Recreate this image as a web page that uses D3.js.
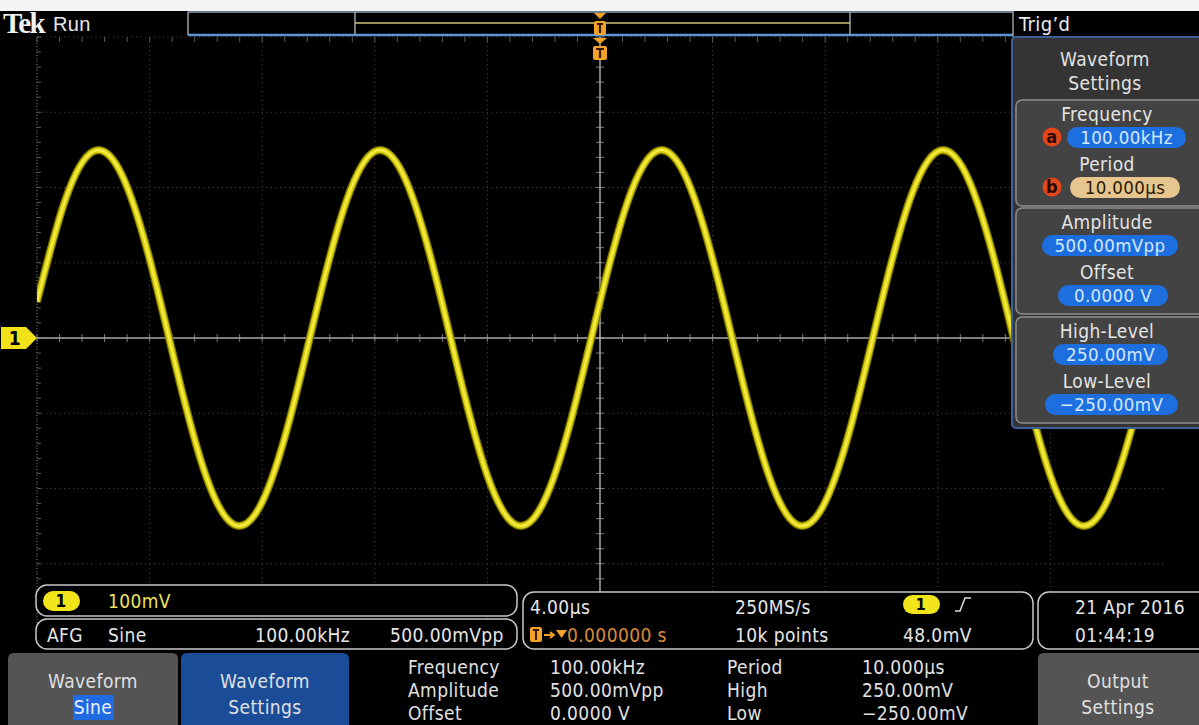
<!DOCTYPE html>
<html>
<head>
<meta charset="utf-8">
<script src="https://cdn.jsdelivr.net/npm/d3@7"></script>
<style>
  html, body { margin: 0; padding: 0; background: #000; }
  svg { display: block; }
  text { font-family: "DejaVu Sans Condensed", "Liberation Sans Narrow", "DejaVu Sans", sans-serif; letter-spacing: 0.4px; }
</style>
</head>
<body>
<div id="viz"></div>
<script>
var w = 1199;
var h = 725;

var timeUs = [-20, -19, -18, -17, -16, -15, -14, -13, -12, -11,
              -10, -9, -8, -7, -6, -5, -4, -3, -2, -1,
              0, 1, 2, 3, 4, 5, 6, 7, 8, 9,
              10, 11, 12, 13, 14, 15, 16, 17, 18, 19, 20];
var traceMv = [48, 183, 248, 218, 105, -48, -183, -248, -218, -105,
               48, 183, 248, 218, 105, -48, -183, -248, -218, -105,
               48, 183, 248, 218, 105, -48, -183, -248, -218, -105,
               48, 183, 248, 218, 105, -48, -183, -248, -218, -105,
               48];

// graticule: 10 x 4us, 8 x 100mV
var timeTicks = [-20, -16, -12, -8, -4, 0, 4, 8, 12, 16, 20];
var voltTicks = [-400, -300, -200, -100, 0, 100, 200, 300, 400];

// right side menu
var panelTitle = ["Waveform", "Settings"];
var panelGroups = [
  {labels: ["Frequency", "Period"], values: ["100.00kHz", "10.000\u00b5s"], keys: ["a", "b"]},
  {labels: ["Amplitude", "Offset"], values: ["500.00mVpp", "0.0000 V"], keys: [null, null]},
  {labels: ["High-Level", "Low-Level"], values: ["250.00mV", "\u2212250.00mV"], keys: [null, null]}
];

// readouts
var chanScale = "100mV";
var afgRow = ["AFG", "Sine", "100.00kHz", "500.00mVpp"];
var horizRow1 = ["4.00\u00b5s", "250MS/s"];
var horizRow2 = ["0.000000 s", "10k points", "48.0mV"];
var dateRow = ["21 Apr  2016", "01:44:19"];
var paramNames = ["Frequency", "Amplitude", "Offset"];
var paramVals = ["100.00kHz", "500.00mVpp", "0.0000 V"];
var paramNames2 = ["Period", "High", "Low"];
var paramVals2 = ["10.000\u00b5s", "250.00mV", "\u2212250.00mV"];

var gx0 = 37, gx1 = 1163, gy0 = 37, gy1 = 639;
var fs = 19;

var svg = d3.select("#viz")
    .append("svg")
    .attr("width", w)
    .attr("height", h);

svg.append("rect").attr("width", w).attr("height", h).attr("fill", "#000");

var x = d3.scaleLinear().domain([-20, 20]).range([gx0, gx1]);
var y = d3.scaleLinear().domain([-400, 400]).range([gy1, gy0]);

//graticule
var grid = svg.append("g").attr("class", "grid");

grid.selectAll("line.vg")
    .data(timeTicks.filter(function (t) { return t != 0 && t != 20; }))
    .enter().append("line")
    .attr("x1", function (d) { return x(d); })
    .attr("x2", function (d) { return x(d); })
    .attr("y1", gy0).attr("y2", gy1)
    .attr("stroke", "#4a4a4a")
    .attr("stroke-dasharray", "1,3.5");

grid.selectAll("line.hg")
    .data(voltTicks.filter(function (v) { return v != 0 && v != -400; }))
    .enter().append("line")
    .attr("y1", function (d) { return y(d); })
    .attr("y2", function (d) { return y(d); })
    .attr("x1", gx0).attr("x2", gx1)
    .attr("stroke", "#4a4a4a")
    .attr("stroke-dasharray", "1,3.5");

// minor tick marks on the center lines and frame
var minorT = d3.range(-20, 20.01, 0.8);
var minorV = d3.range(-400, 400.01, 20);

grid.selectAll("line.mt")
    .data(minorT)
    .enter().append("line")
    .attr("x1", function (d) { return x(d); })
    .attr("x2", function (d) { return x(d); })
    .attr("y1", y(0) - 4).attr("y2", y(0) + 4)
    .attr("stroke", "#7a7a7a");

grid.selectAll("line.mtt")
    .data(minorT)
    .enter().append("line")
    .attr("x1", function (d) { return x(d); })
    .attr("x2", function (d) { return x(d); })
    .attr("y1", gy0).attr("y2", gy0 + 5)
    .attr("stroke", "#5a5a5a");

grid.selectAll("line.mv")
    .data(minorV)
    .enter().append("line")
    .attr("y1", function (d) { return y(d); })
    .attr("y2", function (d) { return y(d); })
    .attr("x1", x(0) - 4).attr("x2", x(0) + 4)
    .attr("stroke", "#7a7a7a");

grid.selectAll("line.mvl")
    .data(minorV)
    .enter().append("line")
    .attr("y1", function (d) { return y(d); })
    .attr("y2", function (d) { return y(d); })
    .attr("x1", gx0).attr("x2", gx0 + 4)
    .attr("stroke", "#5a5a5a");

grid.append("line")
    .attr("x1", gx0).attr("x2", gx0).attr("y1", gy0).attr("y2", gy1)
    .attr("stroke", "#6a6a6a").attr("stroke-dasharray", "1,2");

grid.append("line")
    .attr("x1", gx0).attr("x2", gx1).attr("y1", y(0)).attr("y2", y(0))
    .attr("stroke", "#a8a8a8").attr("stroke-width", 1.5);
grid.append("line")
    .attr("x1", x(0)).attr("x2", x(0)).attr("y1", gy0).attr("y2", gy1)
    .attr("stroke", "#a8a8a8").attr("stroke-width", 1.5);

//trace
svg.append("clipPath").attr("id", "gclip")
    .append("rect").attr("x", gx0).attr("y", gy0)
    .attr("width", gx1 - gx0).attr("height", gy1 - gy0);

var line = d3.line()
    .x(function (d, i) { return x(timeUs[i]); })
    .y(function (d) { return y(d); })
    .curve(d3.curveNatural);

var traceG = svg.append("g").attr("clip-path", "url(#gclip)");
traceG.append("path").attr("d", line(traceMv))
    .attr("fill", "none").attr("stroke", "#7c7600").attr("stroke-width", 8);
traceG.append("path").attr("d", line(traceMv))
    .attr("fill", "none").attr("stroke", "#dcd20e").attr("stroke-width", 5.5);
traceG.append("path").attr("d", line(traceMv))
    .attr("fill", "none").attr("stroke", "#f6ec4a").attr("stroke-width", 2);

//channel 1 marker
var cy0 = y(0);
svg.append("path")
    .attr("d", "M1," + (cy0 - 11) + "L26," + (cy0 - 11) + "L37," + cy0 + "L26," + (cy0 + 11) + "L1," + (cy0 + 11) + "Z")
    .attr("fill", "#f2e21a");
svg.append("text").attr("x", 15).attr("y", cy0 + 7)
    .attr("text-anchor", "middle").attr("font-size", 19).attr("font-weight", "bold")
    .attr("fill", "#000").text("1");

//top bar
var topBar = svg.append("g");
topBar.append("rect").attr("x", 0).attr("y", 0).attr("width", w).attr("height", 11).attr("fill", "#f4f4f4");
topBar.append("rect").attr("x", 0).attr("y", 11).attr("width", w).attr("height", 25).attr("fill", "#000");
topBar.append("text").attr("x", 3).attr("y", 33)
    .attr("font-weight", "bold").attr("font-size", 29).attr("fill", "#f0f0f0")
    .style("font-family", "'Liberation Serif', 'DejaVu Serif', serif")
    .style("letter-spacing", "-1.5px").text("Tek");
topBar.append("text").attr("x", 53).attr("y", 31)
    .attr("font-size", 20).attr("fill", "#e8e8e8")
    .style("font-family", "'Liberation Sans', Arial, sans-serif").text("Run");

topBar.append("line").attr("x1", 188).attr("x2", 1013).attr("y1", 12).attr("y2", 12)
    .attr("stroke", "#8aa4ba").attr("stroke-width", 1.5);
topBar.append("line").attr("x1", 188).attr("x2", 1013).attr("y1", 35).attr("y2", 35)
    .attr("stroke", "#5b95d6").attr("stroke-width", 2.5);
topBar.append("line").attr("x1", 188).attr("x2", 188).attr("y1", 12).attr("y2", 35)
    .attr("stroke", "#a0a0a0").attr("stroke-width", 1.5);
topBar.append("line").attr("x1", 355).attr("x2", 355).attr("y1", 12).attr("y2", 35)
    .attr("stroke", "#a0a0a0").attr("stroke-width", 1.5);
topBar.append("line").attr("x1", 850).attr("x2", 850).attr("y1", 12).attr("y2", 35)
    .attr("stroke", "#a0a0a0").attr("stroke-width", 1.5);
topBar.append("line").attr("x1", 355).attr("x2", 850).attr("y1", 23).attr("y2", 23)
    .attr("stroke", "#cfc27a").attr("stroke-width", 1.5);
topBar.append("line").attr("x1", 1013).attr("x2", 1013).attr("y1", 11).attr("y2", 37)
    .attr("stroke", "#9a9a9a").attr("stroke-width", 1.5);
topBar.append("text").attr("x", 1019).attr("y", 31)
    .attr("font-size", 20).attr("fill", "#ececec").text("Trig\u2019d");

// trigger position markers
var tx = x(0);
var orange = "#f2a22a";
function trigMark(yTop, big) {
    var hw = big ? 7 : 6;
    topBar.append("path")
        .attr("d", "M" + (tx - hw) + "," + yTop + "L" + (tx + hw) + "," + yTop + "L" + tx + "," + (yTop + 6) + "Z")
        .attr("fill", orange);
    topBar.append("rect").attr("x", tx - hw).attr("y", yTop + 8).attr("width", hw * 2).attr("height", 14)
        .attr("rx", 2).attr("fill", orange);
    topBar.append("path")
        .attr("d", "M" + (tx - hw + 3) + "," + (yTop + 11) + "L" + (tx + hw - 3) + "," + (yTop + 11) +
             "M" + tx + "," + (yTop + 11) + "L" + tx + "," + (yTop + 20))
        .attr("stroke", "#3a1a00").attr("stroke-width", 2.2);
}
trigMark(13, false);
trigMark(38, true);

//right menu panel
var panel = svg.append("g");
panel.append("rect").attr("x", 1012).attr("y", 37).attr("width", 200).attr("height", 391)
    .attr("rx", 4).attr("fill", "#343434").attr("stroke", "#3d5f9a").attr("stroke-width", 2);
panel.selectAll("text.pt")
    .data(panelTitle)
    .enter().append("text")
    .attr("x", 1105).attr("y", function (d, i) { return 66 + i * 24; })
    .attr("text-anchor", "middle").attr("font-size", fs).attr("fill", "#e2e2e2")
    .text(function (d) { return d; });

var groupTops = [100, 208, 317];
var pillRanges = [[[1067, 1186], [1070, 1180]], [[1042, 1178], [1058, 1168]], [[1053, 1168], [1045, 1178]]];

panelGroups.forEach(function (g, gi) {
    var gy = groupTops[gi];
    panel.append("rect").attr("x", 1016).attr("y", gy).attr("width", 195).attr("height", 106)
        .attr("rx", 6).attr("fill", "#434343").attr("stroke", "#8e8e8e").attr("stroke-width", 1.5);
    g.labels.forEach(function (lab, li) {
        var ly = gy + 21 + li * 50;
        panel.append("text").attr("x", 1107).attr("y", ly)
            .attr("text-anchor", "middle").attr("font-size", fs).attr("fill", "#e4e4e4").text(lab);
        var pr = pillRanges[gi][li];
        var py = ly + 6;
        var isTan = g.keys[li] == "b";
        panel.append("rect").attr("x", pr[0]).attr("y", py).attr("width", pr[1] - pr[0]).attr("height", 21)
            .attr("rx", 10.5).attr("fill", isTan ? "#e6c58e" : "#1d6fe0");
        panel.append("text").attr("x", (pr[0] + pr[1]) / 2).attr("y", py + 17)
            .attr("text-anchor", "middle").attr("font-size", 18.5)
            .attr("fill", isTan ? "#2a1800" : "#d6e8ff").text(g.values[li]);
        if (g.keys[li]) {
            panel.append("circle").attr("cx", 1052).attr("cy", py + 10).attr("r", 9.5).attr("fill", "#e2461a");
            panel.append("text").attr("x", 1052).attr("y", py + 16)
                .attr("text-anchor", "middle").attr("font-size", 18).attr("font-weight", "bold")
                .attr("fill", "#2a0800").text(g.keys[li]);
        }
    });
});

//readout boxes
var info = svg.append("g");
function box(bx, by, bw, bh) {
    info.append("rect").attr("x", bx).attr("y", by).attr("width", bw).attr("height", bh)
        .attr("rx", 11).attr("ry", 11).attr("fill", "#000").attr("stroke", "#c8c8c8").attr("stroke-width", 1.5);
}
box(36, 585, 481, 31);
box(36, 619, 481, 30);
box(523, 592, 510, 57);
box(1038, 592, 180, 57);

function txt(tx_, ty_, s, col, anchor) {
    return info.append("text").attr("x", tx_).attr("y", ty_)
        .attr("font-size", fs).attr("fill", col || "#e6e6e6")
        .attr("text-anchor", anchor || "start").text(s);
}

// channel pill
info.append("rect").attr("x", 43).attr("y", 591).attr("width", 37).attr("height", 20)
    .attr("rx", 10).attr("fill", "#f2e41a");
info.append("text").attr("x", 61).attr("y", 607).attr("text-anchor", "middle")
    .attr("font-size", 17).attr("font-weight", "bold").attr("fill", "#000").text("1");
txt(108, 608, chanScale, "#ece35a");

var afgX = [47, 108, 255, 390];
afgRow.forEach(function (s, i) { txt(afgX[i], 642, s); });

txt(530, 614, horizRow1[0]);
txt(735, 614, horizRow1[1]);
info.append("rect").attr("x", 903).attr("y", 595).attr("width", 37).attr("height", 19)
    .attr("rx", 9.5).attr("fill", "#f2e41a");
info.append("text").attr("x", 921).attr("y", 610).attr("text-anchor", "middle")
    .attr("font-size", 16).attr("font-weight", "bold").attr("fill", "#000").text("1");
info.append("path").attr("d", "M955,611L960,611L965,598L971,598")
    .attr("fill", "none").attr("stroke", "#dcdcdc").attr("stroke-width", 1.5);

info.append("rect").attr("x", 530).attr("y", 627).attr("width", 12).attr("height", 15).attr("rx", 2).attr("fill", orange);
info.append("path").attr("d", "M533,630L539,630M536,630L536,640")
    .attr("stroke", "#3a1a00").attr("stroke-width", 2);
info.append("path").attr("d", "M544,635L553,635M550,632L554,635L550,638")
    .attr("fill", "none").attr("stroke", orange).attr("stroke-width", 1.8);
info.append("path").attr("d", "M556,630L567,630L561.5,638Z").attr("fill", orange);
txt(567, 642, horizRow2[0], "#d98a3a");
txt(735, 642, horizRow2[1]);
txt(903, 642, horizRow2[2]);

txt(1075, 614, dateRow[0]);
txt(1075, 642, dateRow[1]);

//bottom menu
var menu = svg.append("g");
menu.append("path").attr("d", "M8,725L8,659Q8,653 14,653L172,653Q178,653 178,659L178,725Z").attr("fill", "#545454");
menu.append("path").attr("d", "M181,725L181,659Q181,653 187,653L343,653Q349,653 349,659L349,725Z").attr("fill", "#1a4c98");
menu.append("path").attr("d", "M1038,725L1038,659Q1038,653 1044,653L1205,653L1205,725Z").attr("fill", "#545454");

function mtxt(tx_, ty_, s, anchor, col) {
    return menu.append("text").attr("x", tx_).attr("y", ty_)
        .attr("font-size", fs).attr("fill", col || "#e0e0e0")
        .attr("text-anchor", anchor || "start").text(s);
}
mtxt(93, 688, "Waveform", "middle");
menu.append("rect").attr("x", 73).attr("y", 695).attr("width", 41).attr("height", 25).attr("fill", "#1f6ae0");
mtxt(93, 714, "Sine", "middle", "#e8f0ff");
mtxt(265, 688, "Waveform", "middle");
mtxt(265, 714, "Settings", "middle");
mtxt(1118, 688, "Output", "middle");
mtxt(1118, 714, "Settings", "middle");

paramNames.forEach(function (s, i) { mtxt(408, 674 + i * 23, s); });
paramVals.forEach(function (s, i) { mtxt(550, 674 + i * 23, s); });
paramNames2.forEach(function (s, i) { mtxt(727, 674 + i * 23, s); });
paramVals2.forEach(function (s, i) { mtxt(862, 674 + i * 23, s); });
</script>
</body>
</html>
